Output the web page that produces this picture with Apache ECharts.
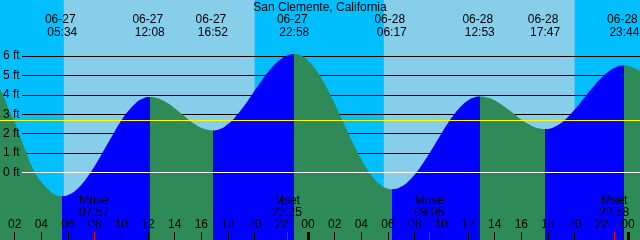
<!DOCTYPE html>
<html>
<head>
<meta charset="utf-8">
<script src="https://cdn.jsdelivr.net/npm/echarts@6/dist/echarts.min.js"></script>
<style>html,body{margin:0;padding:0;background:#87CEEB}#c{width:640px;height:240px}</style>
</head>
<body>
<div id="c"></div>
<script>
// ---------------- data ----------------
const stationTitle = 'San Clemente, California';
// hours since 06-27 00:00 and predicted height in feet
const tideHours = [0.9,1.25,1.7,2.0,2.32,2.875,3.5,4.0,4.5,5.0,5.567,6.0,6.5,7.0,7.5,8.0,8.5,9.0,9.5,10.0,10.5,11.0,11.5,12.133,12.5,13.0,13.5,14.0,14.5,15.0,15.5,16.0,16.5,16.867,17.5,18.0,18.5,19.0,19.5,20.0,20.5,21.0,21.5,22.0,22.5,22.967,23.5,24.0,24.5,25.0,25.5,26.0,26.5,27.0,27.5,28.0,28.5,29.0,29.5,30.0,30.283,30.5,31.0,31.5,32.0,32.5,33.0,33.5,34.0,34.5,35.0,35.5,36.0,36.5,36.883,37.5,38.0,38.5,39.0,39.5,40.0,40.5,41.0,41.5,41.783,42.0,42.5,43.0,43.5,44.0,44.5,45.0,45.5,46.0,46.5,47.0,47.5,47.733,48.3,48.9];
const tideFeet = [4.3,3.8,3.0,2.6,2.0,1.0,0.0,-0.5,-0.88,-1.15,-1.23,-1.17,-0.98,-0.65,-0.21,0.32,0.90,1.51,2.11,2.67,3.15,3.52,3.77,3.89,3.86,3.75,3.56,3.31,3.03,2.74,2.49,2.30,2.19,2.16,2.26,2.49,2.82,3.24,3.71,4.22,4.72,5.18,5.57,5.87,6.05,6.11,6.02,5.77,5.38,4.87,4.24,3.54,2.80,2.06,1.33,0.67,0.09,-0.36,-0.68,-0.85,-0.88,-0.87,-0.74,-0.49,-0.12,0.34,0.86,1.42,1.99,2.54,3.02,3.42,3.71,3.88,3.92,3.85,3.71,3.50,3.25,2.99,2.72,2.50,2.33,2.25,2.23,2.24,2.35,2.56,2.86,3.24,3.65,4.09,4.50,4.88,5.18,5.40,5.51,5.52,5.43,5.25];
const extremeDates = ['06-27','06-27','06-27','06-27','06-28','06-28','06-28','06-28'];
const extremeTimes = ['05:34','12:08','16:52','22:58','06:17','12:53','17:47','23:44'];
const moonEvents = ['Mrise','Mset','Mrise','Mset'];
const moonDates = ['06-27','06-27','06-28','06-28'];
const moonTimes = ['07:57','22:25','09:05','22:58'];
const sunriseDates = ['06-27','06-28'];
const sunriseTimes = ['05:41','05:41'];
const sunsetDates = ['06-27','06-28'];
const sunsetTimes = ['20:00','20:00'];
const hourLabels = ['02','04','06','08','10','12','14','16','18','20','22','00','02','04','06','08','10','12','14','16','18','20','22','00'];
const levelValues = [0,1,2,3,4,5,6];
const meanLevel = 2.69;

// ---------------- layout / helpers ----------------
const FONT = '"Liberation Sans", Arial, sans-serif';
const X_MIN = 0.9, X_MAX = 48.9;
const Y_MIN = -3.5, Y_MAX = 8.9;
const LINE_X0 = 2.55;
const GREEN = '#2E8B57', BLUE = '#0000FF', DAY = '#87CEEB', NIGHT = '#00BFFF';

function toHours(d, t) {
  const day = parseInt(d.split('-')[1], 10) - 27;
  const p = t.split(':');
  return day * 24 + parseInt(p[0], 10) + parseInt(p[1], 10) / 60;
}
function nearestIndex(arr, v) {
  let bi = 0, bd = Infinity;
  arr.forEach((a, i) => { const d = Math.abs(a - v); if (d < bd) { bd = d; bi = i; } });
  return bi;
}

const extremeHours = extremeDates.map((d, i) => toHours(d, extremeTimes[i]));
const moonHours = moonDates.map((d, i) => toHours(d, moonTimes[i]));
const sunrise = sunriseDates.map((d, i) => toHours(d, sunriseTimes[i]));
const sunset = sunsetDates.map((d, i) => toHours(d, sunsetTimes[i]));
const hourTicks = hourLabels.map((_, i) => 2 * (i + 1));
const midnightTicks = hourTicks.filter(h => h % 24 === 0);
const plainTicks = hourTicks.filter(h => h % 24 !== 0);

const tideData = tideHours.map((h, i) => [h, tideFeet[i]]);

// night bands
const nightAreas = [
  [{ xAxis: X_MIN }, { xAxis: sunrise[0] }],
  [{ xAxis: sunset[0] }, { xAxis: sunrise[1] }],
  [{ xAxis: sunset[1] }, { xAxis: X_MAX }]
];

// rising / falling pieces
const pieces = [];
let prev = X_MIN - 1;
extremeHours.forEach((h, i) => {
  pieces.push({ gte: prev, lt: h, color: i % 2 === 0 ? GREEN : BLUE });
  prev = h;
});
pieces.push({ gte: prev, lte: X_MAX + 1, color: GREEN });

const txt = { color: '#000', fontFamily: FONT, fontSize: 12 };

const baseX = {
  type: 'value', min: X_MIN, max: X_MAX, position: 'bottom', z: 10,
  axisLine: { show: false, onZero: false }, splitLine: { show: false }
};

const option = {
  animation: false,
  backgroundColor: DAY,
  title: {
    text: stationTitle, left: 'center', top: 0, padding: [1, 0, 0, 0],
    textStyle: { color: '#000', fontFamily: FONT, fontSize: 12, fontWeight: 'normal', lineHeight: 13 }
  },
  grid: { left: 0, right: 0, top: 0, bottom: 0, containLabel: false, outerBoundsMode: 'none' },
  xAxis: [
    Object.assign({}, baseX, {
      axisTick: { show: true, inside: true, length: 8, customValues: plainTicks, lineStyle: { color: '#000', width: 1 } },
      axisLabel: Object.assign({ show: true, inside: true, margin: 9, lineHeight: 12, customValues: hourTicks,
        formatter: v => hourLabels[nearestIndex(hourTicks, v)] }, txt)
    }),
    Object.assign({}, baseX, {
      axisTick: { show: true, inside: true, length: 8, customValues: midnightTicks, lineStyle: { color: '#000', width: 3 } },
      axisLabel: { show: false }
    }),
    Object.assign({}, baseX, {
      axisTick: { show: true, inside: true, length: 8, customValues: moonHours, lineStyle: { color: '#FF0000', width: 1 } },
      axisLabel: Object.assign({ show: true, inside: true, margin: 21, lineHeight: 12, customValues: moonHours,
        formatter: v => { const i = nearestIndex(moonHours, v); return moonEvents[i] + '\n' + moonTimes[i]; } }, txt)
    }),
    Object.assign({}, baseX, {
      position: 'top',
      axisTick: { show: false },
      axisLabel: Object.assign({ show: true, inside: true, margin: 13, customValues: extremeHours,
        formatter: v => { const i = nearestIndex(extremeHours, v); return '{d|' + extremeDates[i] + '}\n{t|' + extremeTimes[i] + '}'; },
        rich: {
          d: Object.assign({ lineHeight: 13, padding: [0, 4, 0, 0] }, txt),
          t: Object.assign({ lineHeight: 13 }, txt)
        } }, txt)
    })
  ],
  yAxis: {
    type: 'value', min: Y_MIN, max: Y_MAX, position: 'left', z: 10,
    axisLine: { show: false, onZero: false }, splitLine: { show: false }, axisTick: { show: false },
    axisLabel: Object.assign({ show: true, inside: true, margin: 3, customValues: levelValues,
      formatter: v => v + ' ft' }, txt)
  },
  visualMap: { type: 'piecewise', show: false, dimension: 0, seriesIndex: 0, pieces: pieces },
  series: [
    {
      type: 'line', name: 'tide', data: tideData, smooth: true, showSymbol: false, z: 2,
      xAxisIndex: 0, yAxisIndex: 0, silent: true,
      lineStyle: { width: 0 },
      areaStyle: { opacity: 1, origin: 'start' },
      markArea: {
        z: 0.5, silent: true,
        itemStyle: { color: NIGHT, opacity: 1 },
        data: nightAreas
      },
      markLine: {
        z: 5, silent: true, symbol: ['none', 'none'], label: { show: false },
        data: [
          [{ coord: [LINE_X0, 0], lineStyle: { color: '#FFFFFF', width: 1, type: 'solid' } }, { coord: [X_MAX, 0] }],
          { yAxis: meanLevel, lineStyle: { color: '#FFFF00', width: 1, type: 'solid' } }
        ]
      }
    },
    {
      type: 'line', name: 'levels', data: tideData, showSymbol: false, z: 1, silent: true,
      lineStyle: { opacity: 0, width: 0 },
      markLine: {
        z: 1, silent: true, symbol: ['none', 'none'], label: { show: false },
        lineStyle: { color: '#000', width: 1, type: 'solid' },
        data: levelValues.filter(v => v > 0).map(v => [{ coord: [LINE_X0, v] }, { coord: [X_MAX, v] }])
      }
    }
  ]
};

const chart = echarts.init(document.getElementById('c'), null, { renderer: 'canvas' });
chart.setOption(option);
</script>
</body>
</html>
